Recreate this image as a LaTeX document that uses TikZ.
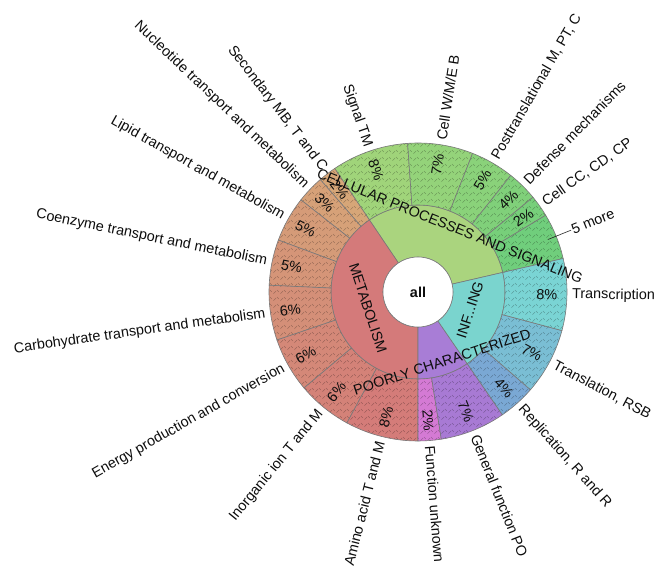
\documentclass[tikz,border=0pt]{standalone}
\usepackage{fontspec}
\setmainfont{Liberation Sans}
\usetikzlibrary{patterns.meta}
\tikzdeclarepattern{
  name=sbhatch,
  type=uncolored,
  bounding box={(0pt,0pt) and (7pt,7pt)},
  tile size={(7pt,7pt)},
  code={
    \draw[line width=0.45pt] (0.5pt,1.5pt) -- (3.5pt,4.5pt);
    \draw[line width=0.45pt] (4.5pt,5.5pt) -- (6.5pt,3.5pt);
  }
}
\definecolor{cIn}{RGB}{170,212,126}
\definecolor{mIn}{RGB}{212,122,122}
\definecolor{pIn}{RGB}{168,125,214}
\definecolor{iIn}{RGB}{122,212,206}
\definecolor{cA}{RGB}{160,212,122}
\definecolor{cB}{RGB}{148,211,122}
\definecolor{cC}{RGB}{138,210,122}
\definecolor{cD}{RGB}{128,208,122}
\definecolor{cE}{RGB}{119,207,122}
\definecolor{cF}{RGB}{112,206,124}
\definecolor{mA}{RGB}{214,166,120}
\definecolor{mB}{RGB}{214,161,120}
\definecolor{mC}{RGB}{213,155,120}
\definecolor{mD}{RGB}{213,149,120}
\definecolor{mE}{RGB}{212,143,120}
\definecolor{mF}{RGB}{212,136,120}
\definecolor{mG}{RGB}{212,130,120}
\definecolor{mH}{RGB}{212,124,121}
\definecolor{pA}{RGB}{212,122,212}
\definecolor{pB}{RGB}{168,122,212}
\definecolor{iA}{RGB}{122,168,212}
\definecolor{iB}{RGB}{122,190,212}
\definecolor{iC}{RGB}{122,212,212}
\definecolor{segcol}{RGB}{120,120,120}
\newcommand\sbpath[4]{(#3:#1) -- (#3:#2) arc[start angle=#3,end angle=#4,radius=#2] -- (#4:#1) arc[start angle=#4,end angle=#3,radius=#1] -- cycle}
\newcommand\sbin[3]{\fill[fill=#3] \sbpath{35}{87}{#1}{#2}; \draw[segline] \sbpath{35}{87}{#1}{#2};}
\newcommand\sbout[3]{\fill[fill=#3, postaction={pattern=sbhatch, pattern color=#3!68!black}] \sbpath{87}{149}{#1}{#2}; \draw[segline] \sbpath{87}{149}{#1}{#2};}
\begin{document}
\begin{tikzpicture}[x=1pt,y=1pt,
  segline/.style={draw=segcol, line width=0.6pt},
  lab/.style={font=\fontsize{14.4}{16}\selectfont, text=black!95, inner sep=1pt},
  pct/.style={lab},
  inlab/.style={lab},
  leader/.style={draw=black!85, line width=0.6pt}]
\useasboundingbox (0,0) rectangle (657,568);
\begin{scope}[shift={(418,276)}]
% inner ring
\sbin{13}{124}{cIn}
\sbin{124}{270}{mIn}
\sbin{270}{304.5}{pIn}
\sbin{304.5}{373}{iIn}
% outer ring: cellular
\sbout{94}{124}{cA}
\sbout{68.5}{94}{cB}
\sbout{51.5}{68.5}{cC}
\sbout{39.5}{51.5}{cD}
\sbout{31}{39.5}{cE}
\sbout{13}{31}{cF}
% metabolism
\sbout{124}{131}{mA}
\sbout{131}{141.8}{mB}
\sbout{141.8}{159.6}{mC}
\sbout{159.6}{177.4}{mD}
\sbout{177.4}{198.8}{mE}
\sbout{198.8}{220.1}{mF}
\sbout{220.1}{241.5}{mG}
\sbout{241.5}{270}{mH}
% poorly characterized
\sbout{270}{279}{pA}
\sbout{279}{304.5}{pB}
% information
\sbout{304.5}{319}{iA}
\sbout{319}{345}{iB}
\sbout{345}{373}{iC}
% centre
\filldraw[fill=white, draw=segcol, line width=0.6pt] (0,0) circle[radius=35];
\node[lab, font=\fontsize{14.4}{16}\selectfont\bfseries] (all) at (0,0) {all};
% inner labels
\node[inlab, rotate=-22] (nCell) at (32,66) {CELLULAR PROCESSES AND SIGNALING};
\node[inlab, rotate=-72] (nMet) at (-50,-16) {METABOLISM};
\node[inlab, rotate=18] (nPoor) at (24,-70) {POORLY CHARACTERIZED};
\node[inlab, rotate=72] (nInf) at (52,-18) {INF...ING};
% percentages
\node[pct, rotate=-71] (p1) at (109:129) {8\%};
\node[pct, rotate=81.25] (p2) at (81.25:129) {7\%};
\node[pct, rotate=60] (p3) at (60:129) {5\%};
\node[pct, rotate=45.5] (p4) at (45.5:129) {4\%};
\node[pct, rotate=35.25] (p5) at (35.25:129) {2\%};
\node[pct, rotate=-52.5] (p6) at (127.5:129) {2\%};
\node[pct, rotate=-43.6] (p7) at (136.4:129) {3\%};
\node[pct, rotate=-29.3] (p8) at (150.7:129) {5\%};
\node[pct, rotate=-11.5] (p9) at (168.5:129) {5\%};
\node[pct, rotate=8.1] (p10) at (188.1:129) {6\%};
\node[pct, rotate=29.45] (p11) at (209.45:129) {6\%};
\node[pct, rotate=50.8] (p12) at (230.8:129) {6\%};
\node[pct, rotate=75.75] (p13) at (255.75:129) {8\%};
\node[pct, rotate=-85.5] (p14) at (274.5:129) {2\%};
\node[pct, rotate=-68.25] (p15) at (291.75:129) {7\%};
\node[pct, rotate=-48.25] (p16) at (311.75:129) {4\%};
\node[pct, rotate=-28] (p17) at (332:129) {7\%};
\node[pct, rotate=-1] (p18) at (359:129) {8\%};
% outside labels
\node[lab, anchor=east, rotate=-71] (l1) at (109:153) {Signal TM};
\node[lab, anchor=west, rotate=81.25] (l2) at (81.25:153) {Cell W/M/E B};
\node[lab, anchor=west, rotate=60] (l3) at (60:153) {Posttranslational M, PT, C};
\node[lab, anchor=west, rotate=45.5] (l4) at (45.5:153) {Defense mechanisms};
\node[lab, anchor=west, rotate=35.25] (l5) at (35.25:153) {Cell CC, CD, CP};
\coordinate (m5a) at (22:140);
\node[lab, anchor=west, rotate=22] (l6) at (22:165) {5 more};
\draw[leader] (m5a) -- (l6.west);
\node[lab, anchor=east, rotate=-52.5] (l7) at (127.5:153) {Secondary MB, T and C};
\node[lab, anchor=east, rotate=-43.6] (l8) at (136.4:153) {Nucleotide transport and metabolism};
\node[lab, anchor=east, rotate=-29.3] (l9) at (150.7:153) {Lipid transport and metabolism};
\node[lab, anchor=east, rotate=-11.5] (l10) at (168.5:153) {Coenzyme transport and metabolism};
\node[lab, anchor=east, rotate=8.1] (l11) at (188.1:153) {Carbohydrate transport and metabolism};
\node[lab, anchor=east, rotate=29.45] (l12) at (209.45:153) {Energy production and conversion};
\node[lab, anchor=east, rotate=50.8] (l13) at (230.8:153) {Inorganic ion T and M};
\node[lab, anchor=east, rotate=75.75] (l14) at (255.75:153) {Amino acid T and M};
\node[lab, anchor=west, rotate=-85.5] (l15) at (274.5:153) {Function unknown};
\node[lab, anchor=west, rotate=-68.25] (l16) at (291.75:153) {General function PO};
\node[lab, anchor=west, rotate=-48.25] (l17) at (311.75:153) {Replication, R and R};
\node[lab, anchor=west, rotate=-28] (l18) at (332:153) {Translation, RSB};
\node[lab, anchor=west, rotate=-1] (l19) at (359:153) {Transcription};
\end{scope}
\end{tikzpicture}
\end{document}
